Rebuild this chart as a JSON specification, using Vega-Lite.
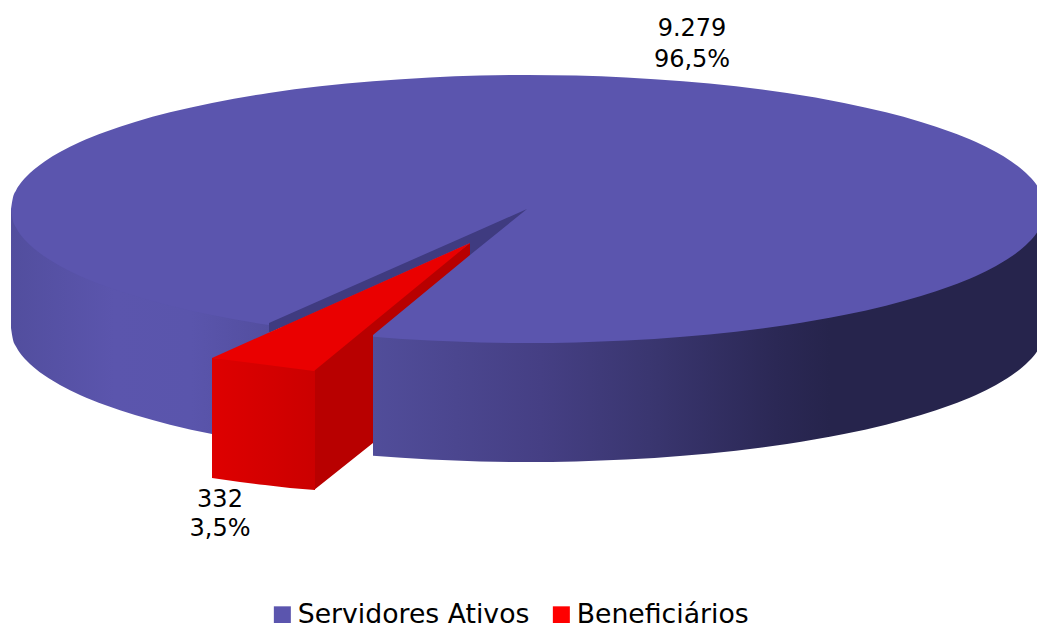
{"$schema":"https://vega.github.io/schema/vega-lite/v6.json","width":1037,"height":623,"autosize":{"type":"none"},"padding":0,"background":"white","config":{"view":{"stroke":null},"font":"DejaVu Sans"},
"datasets":{
"tampo":[{"categoria":"Servidores Ativos","x":11,"a":209,"b":209},{"categoria":"Servidores Ativos","x":13,"a":197.2,"b":220.8},{"categoria":"Servidores Ativos","x":16,"a":190.4,"b":227.6},{"categoria":"Servidores Ativos","x":20,"a":184.1,"b":233.9},{"categoria":"Servidores Ativos","x":26,"a":177,"b":241},{"categoria":"Servidores Ativos","x":34,"a":169.5,"b":248.5},{"categoria":"Servidores Ativos","x":45,"a":161.2,"b":256.8},{"categoria":"Servidores Ativos","x":60,"a":152.1,"b":265.9},{"categoria":"Servidores Ativos","x":80,"a":142.1,"b":275.9},{"categoria":"Servidores Ativos","x":105,"a":132,"b":286},{"categoria":"Servidores Ativos","x":135,"a":121.9,"b":296.1},{"categoria":"Servidores Ativos","x":170,"a":112.3,"b":305.7},{"categoria":"Servidores Ativos","x":212,"a":102.9,"b":315.1},{"categoria":"Servidores Ativos","x":269,"a":93,"b":325},{"categoria":"Servidores Ativos","x":320,"a":86.3,"b":331.7},{"categoria":"Servidores Ativos","x":373,"a":81.2,"b":336.8},{"categoria":"Servidores Ativos","x":430,"a":77.4,"b":340.6},{"categoria":"Servidores Ativos","x":480,"a":75.6,"b":342.4},{"categoria":"Servidores Ativos","x":528,"a":75,"b":343},{"categoria":"Servidores Ativos","x":576,"a":75.6,"b":342.4},{"categoria":"Servidores Ativos","x":626,"a":77.4,"b":340.6},{"categoria":"Servidores Ativos","x":683,"a":81.2,"b":336.8},{"categoria":"Servidores Ativos","x":736,"a":86.3,"b":331.7},{"categoria":"Servidores Ativos","x":787,"a":93,"b":325},{"categoria":"Servidores Ativos","x":844,"a":102.9,"b":315.1},{"categoria":"Servidores Ativos","x":886,"a":112.3,"b":305.7},{"categoria":"Servidores Ativos","x":921,"a":121.9,"b":296.1},{"categoria":"Servidores Ativos","x":951,"a":132,"b":286},{"categoria":"Servidores Ativos","x":976,"a":142.1,"b":275.9},{"categoria":"Servidores Ativos","x":996,"a":152.1,"b":265.9},{"categoria":"Servidores Ativos","x":1011,"a":161.2,"b":256.8},{"categoria":"Servidores Ativos","x":1022,"a":169.5,"b":248.5},{"categoria":"Servidores Ativos","x":1030,"a":177,"b":241},{"categoria":"Servidores Ativos","x":1036,"a":184.1,"b":233.9},{"categoria":"Servidores Ativos","x":1040,"a":190.4,"b":227.6},{"categoria":"Servidores Ativos","x":1043,"a":197.2,"b":220.8},{"categoria":"Servidores Ativos","x":1045,"a":209,"b":209}],
"paredeEsq":[{"x":11,"a":209,"b":328},{"x":13,"a":209,"b":339.8},{"x":16,"a":209,"b":346.6},{"x":20,"a":209,"b":352.9},{"x":26,"a":209,"b":360},{"x":34,"a":209,"b":367.5},{"x":45,"a":209,"b":375.8},{"x":60,"a":209,"b":384.9},{"x":80,"a":209,"b":394.9},{"x":105,"a":209,"b":405},{"x":135,"a":209,"b":415.1},{"x":170,"a":209,"b":424.7},{"x":212,"a":209,"b":434.1},{"x":269,"a":209,"b":444}],
"paredeDir":[{"x":373,"a":209,"b":455.8},{"x":430,"a":209,"b":459.6},{"x":480,"a":209,"b":461.4},{"x":528,"a":209,"b":462},{"x":576,"a":209,"b":461.4},{"x":626,"a":209,"b":459.6},{"x":683,"a":209,"b":455.8},{"x":736,"a":209,"b":450.7},{"x":787,"a":209,"b":444},{"x":844,"a":209,"b":434.1},{"x":886,"a":209,"b":424.7},{"x":921,"a":209,"b":415.1},{"x":951,"a":209,"b":405},{"x":976,"a":209,"b":394.9},{"x":996,"a":209,"b":384.9},{"x":1011,"a":209,"b":375.8},{"x":1022,"a":209,"b":367.5},{"x":1030,"a":209,"b":360},{"x":1036,"a":209,"b":352.9},{"x":1040,"a":209,"b":346.6},{"x":1043,"a":209,"b":339.8},{"x":1045,"a":209,"b":328}],
"vao":[{"x":269,"a":323,"b":333},{"x":470,"a":234.2,"b":243},{"x":470,"a":234.2,"b":255},{"x":527,"a":209,"b":209}],
"fatiaFrente":[{"x":212,"a":358,"b":478},{"x":240,"a":360,"b":482},{"x":265,"a":363,"b":485},{"x":290,"a":366,"b":488},{"x":315,"a":369,"b":490}],
"fatiaLado":[{"x":314,"a":367,"b":490},{"x":373,"a":318,"b":443},{"x":373,"a":318,"b":335},{"x":470,"a":243,"b":255}],
"fatiaTopo":[{"x":212,"a":358,"b":358},{"x":314,"a":312.5,"b":371},{"x":470,"a":243,"b":243}],
"rotulos":[{"texto":"9.279","x":692,"y":29},{"texto":"96,5%","x":692,"y":60},{"texto":"332","x":220,"y":500},{"texto":"3,5%","x":220,"y":529}]
},
"encoding":{
"x":{"field":"x","type":"quantitative","axis":null,"scale":{"domain":[0,1037],"nice":false,"zero":false}},
"y":{"field":"a","type":"quantitative","axis":null,"scale":{"domain":[623,0],"nice":false,"zero":false}},
"y2":{"field":"b"}},
"layer":[
{"data":{"name":"paredeEsq"},"mark":{"type":"area","interpolate":"monotone","opacity":1,"color":{"gradient":"linear","x1":0,"y1":0,"x2":1,"y2":0,"stops":[{"offset":0,"color":"#524E9E"},{"offset":0.4,"color":"#5B55AD"},{"offset":0.7,"color":"#5A55AC"},{"offset":1,"color":"#534E9F"}]}}},
{"data":{"name":"paredeDir"},"mark":{"type":"area","interpolate":"monotone","opacity":1,"color":{"gradient":"linear","x1":0,"y1":0,"x2":1,"y2":0,"stops":[{"offset":0,"color":"#514D9A"},{"offset":0.25,"color":"#453F84"},{"offset":0.41,"color":"#3A3670"},{"offset":0.6,"color":"#2B2855"},{"offset":0.68,"color":"#26244C"},{"offset":1,"color":"#26244C"}]}}},
{"data":{"name":"tampo"},"mark":{"type":"area","interpolate":"monotone","opacity":1},"encoding":{"color":{"field":"categoria","type":"nominal","scale":{"domain":["Servidores Ativos","Beneficiários"],"range":["#5B55AE","#FF0000"]},"legend":{"title":null,"orient":"none","legendX":269,"legendY":601,"direction":"horizontal","symbolType":"square","symbolSize":289,"symbolStrokeWidth":0,"labelFontSize":26.7,"labelColor":"#000000","labelFont":"DejaVu Sans","labelOffset":2,"columnPadding":18,"labelLimit":400,"values":["Servidores Ativos","Beneficiários"]}}}},
{"data":{"name":"vao"},"mark":{"type":"area","opacity":1,"color":"#3F3B80"}},
{"data":{"name":"fatiaLado"},"mark":{"type":"area","opacity":1,"color":"#B80000"}},
{"data":{"name":"fatiaFrente"},"mark":{"type":"area","interpolate":"monotone","opacity":1,"color":{"gradient":"linear","x1":0,"y1":0,"x2":1,"y2":0,"stops":[{"offset":0,"color":"#DE0000"},{"offset":1,"color":"#CB0000"}]}}},
{"data":{"name":"fatiaTopo"},"mark":{"type":"area","opacity":1,"color":"#EA0000"}},
{"data":{"name":"rotulos"},"mark":{"type":"text","fontSize":24,"font":"DejaVu Sans","color":"#000000","baseline":"middle","align":"center"},"encoding":{"y":{"field":"y","type":"quantitative"},"y2":null,"text":{"field":"texto"}}}
]}
